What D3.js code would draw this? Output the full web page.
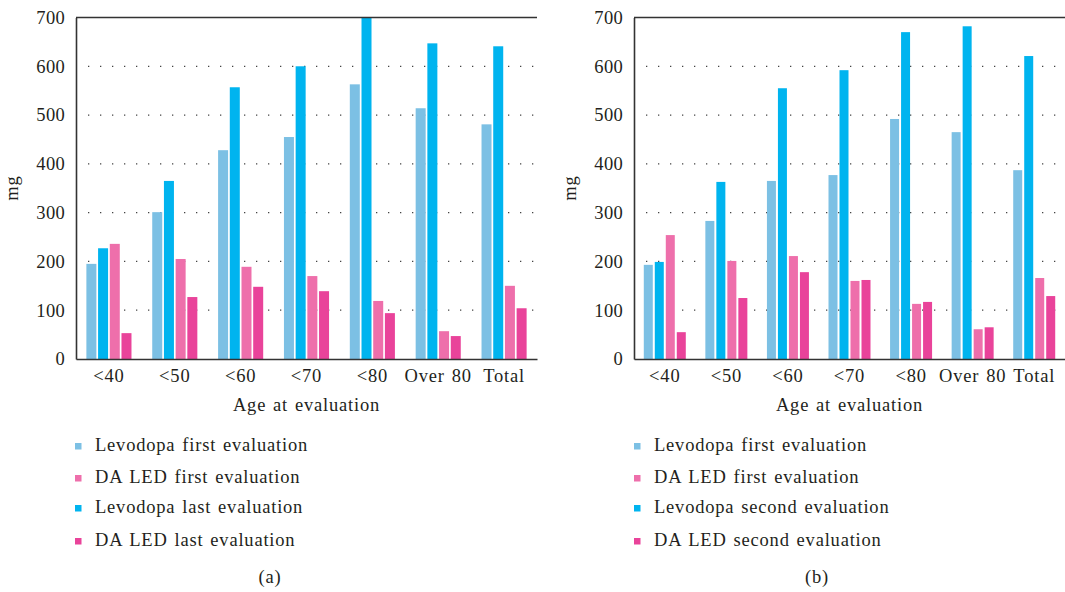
<!DOCTYPE html>
<html><head><meta charset="utf-8">
<script src="https://cdn.jsdelivr.net/npm/d3@7"></script>
<style>body{margin:0;background:#fff}svg{display:block}text{font-family:"Liberation Serif",serif;fill:#231f20}</style>
</head><body>
<svg id="c" width="1065" height="592"></svg>
<script>
const categories = ["<40","<50","<60","<70","<80","Over 80","Total"];
const yTicks = [0,100,200,300,400,500,600,700];
// Panel (a)
const aLevodopaFirst = [195,301,428,455,563,514,481];
const aLevodopaLast  = [227,365,557,600,699,647,641];
const aDAFirst       = [236,205,189,170,119,57,150];
const aDALast        = [53,127,148,139,94,47,104];
const aLegend = ["Levodopa first evaluation","DA LED first evaluation","Levodopa last evaluation","DA LED last evaluation"];
// Panel (b)
const bLevodopaFirst  = [193,283,365,377,492,465,387];
const bLevodopaSecond = [199,363,555,592,670,682,621];
const bDAFirst        = [254,201,211,160,113,61,166];
const bDASecond       = [55,125,178,162,117,65,129];
const bLegend = ["Levodopa first evaluation","DA LED first evaluation","Levodopa second evaluation","DA LED second evaluation"];
const colors = {lf:"#7cc0e4", ll:"#00b4ef", df:"#ee6fab", dl:"#e9439a"};
const FONT = "Liberation Serif", FS = "18.5px";

const svg = d3.select("#c");
function styleText(sel, size){
  sel.style("font-family",FONT).style("font-size",size||FS)
     .style("letter-spacing","0.8px").style("word-spacing","1.5px").attr("fill","#231f20");
  return sel;
}

function panel(o){
  const g = svg.append("g");
  const x = d3.scaleBand().domain(categories).range([o.x0,o.x1]).paddingInner(0).paddingOuter(0);
  const y = d3.scaleLinear().domain([0,700]).range([359,17.5]);
  const seriesKeys = ["lf","ll","df","dl"];
  const data = {lf:o.lf, ll:o.ll, df:o.df, dl:o.dl};
  g.selectAll("line.grid").data(yTicks.filter(t=>t>0&&t<700)).join("line")
    .attr("x1",o.x0+12).attr("x2",o.x1).attr("y1",d=>y(d)).attr("y2",d=>y(d))
    .attr("stroke","#444").attr("stroke-width",1.3).attr("stroke-dasharray","1.3 10.7");
  const step = o.step, bw = o.bw;
  seriesKeys.forEach((k,i)=>{
    g.selectAll("rect."+k).data(categories).join("rect")
      .attr("x",(c)=>x(c)+x.bandwidth()/2 - (step*3+bw)/2 + i*step)
      .attr("width",bw)
      .attr("y",(c,j)=>y(data[k][j]))
      .attr("height",(c,j)=>y(0)-y(data[k][j]))
      .attr("fill",colors[k]);
  });
  const ya = g.append("g").attr("transform",`translate(${o.x0},0)`).call(d3.axisLeft(y).tickValues(yTicks).tickSize(0).tickPadding(11));
  ya.select(".domain").attr("stroke","#333").attr("stroke-width",1.6);
  ya.selectAll("text").style("font-family",FONT).style("font-size","18.5px").style("letter-spacing","0.3px").attr("fill","#231f20");
  const xa = g.append("g").attr("transform",`translate(0,${y(0)})`).call(d3.axisBottom(x).tickSize(0).tickPadding(10));
  xa.select(".domain").attr("stroke","#333").attr("stroke-width",1.6);
  styleText(xa.selectAll("text"));
  g.append("line").attr("x1",o.x0).attr("x2",o.x1).attr("y1",y(700)).attr("y2",y(700)).attr("stroke","#333").attr("stroke-width",1.6);
  styleText(g.append("text").attr("x",(o.x0+o.x1)/2).attr("y",411).attr("text-anchor","middle")).text("Age at evaluation");
  styleText(g.append("text").attr("transform",`translate(${o.x0-58},188) rotate(-90)`).attr("text-anchor","middle")).text("mg");
  const legColors = [colors.lf,colors.df,colors.ll,colors.dl];
  const rowsY = [451,483,513,546];
  o.legend.forEach((t,i)=>{
    g.append("rect").attr("x",o.lx).attr("y",rowsY[i]-8).attr("width",6.5).attr("height",6.5).attr("fill",legColors[i]);
    styleText(g.append("text").attr("x",o.lx+20).attr("y",rowsY[i])).text(t);
  });
  styleText(g.append("text").attr("x",o.labX).attr("y",583).attr("text-anchor","middle")).text(o.label);
}

panel({x0:76,x1:537,step:11.7,bw:10,lf:aLevodopaFirst,ll:aLevodopaLast,df:aDAFirst,dl:aDALast,legend:aLegend,lx:75,labX:270,label:"(a)"});
panel({x0:634,x1:1065,step:11,bw:9,lf:bLevodopaFirst,ll:bLevodopaSecond,df:bDAFirst,dl:bDASecond,legend:bLegend,lx:634,labX:817,label:"(b)"});
</script>
</body></html>
